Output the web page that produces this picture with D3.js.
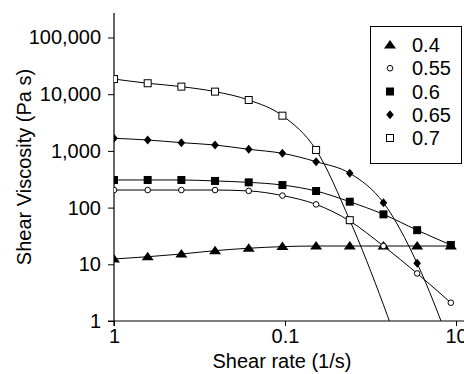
<!DOCTYPE html>
<html><head><meta charset="utf-8">
<script src="https://cdn.jsdelivr.net/npm/d3@7"></script>
<style>html,body{margin:0;padding:0;background:#fff;}svg{display:block;font-family:"Liberation Sans",Arial,sans-serif;}</style>
</head><body>
<svg id="c" width="464" height="374"></svg>
<script>
// shear rates (1/s)
const shearRate = [0.01, 0.01574, 0.02477, 0.03899, 0.06136, 0.09658, 0.152, 0.2392, 0.3765, 0.5926, 0.9327];
const seriesNames = ["0.4", "0.55", "0.6", "0.65", "0.7"];
const v04  = [12.4, 13.6, 15.2, 17.4, 19.2, 20.5, 21, 21, 21, 21, 21];
const v055 = [204, 204, 204, 204, 197, 163, 114, 58, 21, 6.9, 2.1];
const v06  = [307, 307, 307, 295, 279, 250, 196, 127, 76, 40, 21.9];
const v065 = [1668, 1557, 1396, 1271, 1067, 907, 645, 403, 122, 10.4, 0.35];
const v07  = [18500, 15600, 13600, 11100, 7900, 4180, 1040, 60, null, 0.042, null];
const seriesValues = [v04, v055, v06, v065, v07];
const xTickValues = [0.01, 0.1, 1];
const xTickLabels = ["1", "0.1", "10"];
const yTickValues = [1, 10, 100, 1000, 10000, 100000];
const yTickLabels = ["1", "10", "100", "1,000", "10,000", "100,000"];
const markerTypes = ["triangle", "circleOpen", "square", "diamond", "squareOpen"];

const svg = d3.select("#c");
const x = d3.scaleLog().domain([0.01, 1]).range([114, 456]);
const y = d3.scaleLog().domain([1, 100000]).range([321, 37.5]);
const font = 20;

svg.append("defs").append("clipPath").attr("id", "clip")
  .append("rect").attr("x", 114).attr("y", 0).attr("width", 350).attr("height", 321);

// axes
const ya = svg.append("g").attr("transform", "translate(114,0)")
  .call(d3.axisLeft(y).tickValues(yTickValues).tickSize(6).tickSizeOuter(0)
    .tickFormat((d, i) => yTickLabels[i]));
ya.select(".domain").remove();
ya.selectAll("line").attr("stroke", "#000");
ya.selectAll("text").attr("font-size", font).attr("font-family", "Liberation Sans, Arial, sans-serif")
  .attr("fill", "#000").attr("x", -13);

const xa = svg.append("g").attr("transform", "translate(0,321)")
  .call(d3.axisBottom(x).tickValues(xTickValues).tickSize(5).tickSizeOuter(0)
    .tickFormat((d, i) => xTickLabels[i]));
xa.select(".domain").remove();
xa.selectAll("line").attr("stroke", "#000");
xa.selectAll("text").attr("font-size", font).attr("font-family", "Liberation Sans, Arial, sans-serif")
  .attr("fill", "#000").attr("y", 8);

svg.append("line").attr("x1", 114).attr("x2", 114).attr("y1", 13).attr("y2", 326).attr("stroke", "#000").attr("stroke-width", 1.2);
svg.append("line").attr("x1", 108).attr("x2", 464).attr("y1", 321).attr("y2", 321).attr("stroke", "#000").attr("stroke-width", 1);

svg.append("text").attr("x", 282).attr("y", 368).attr("text-anchor", "middle")
  .attr("font-size", font).attr("fill", "#000").text("Shear rate (1/s)");
svg.append("text").attr("transform", "translate(31,167) rotate(-90)").attr("text-anchor", "middle")
  .attr("font-size", font).attr("fill", "#000").text("Shear Viscosity (Pa s)");

function drawMarker(g, type, cx, cy) {
  if (type === "triangle") {
    g.append("path").attr("d", `M${cx},${cy-5}L${cx+6},${cy+3.5}L${cx-6},${cy+3.5}Z`).attr("fill", "#000");
  } else if (type === "circleOpen") {
    g.append("circle").attr("cx", cx).attr("cy", cy).attr("r", 2.8).attr("fill", "#fff").attr("stroke", "#000").attr("stroke-width", 1);
  } else if (type === "square") {
    g.append("rect").attr("x", cx-4).attr("y", cy-4).attr("width", 8).attr("height", 8).attr("fill", "#000");
  } else if (type === "diamond") {
    g.append("path").attr("d", `M${cx},${cy-4.5}L${cx+3.8},${cy}L${cx},${cy+4.5}L${cx-3.8},${cy}Z`).attr("fill", "#000");
  } else if (type === "squareOpen") {
    g.append("rect").attr("x", cx-3.5).attr("y", cy-3.5).attr("width", 7).attr("height", 7).attr("fill", "#fff").attr("stroke", "#000").attr("stroke-width", 1);
  }
}

const plot = svg.append("g").attr("clip-path", "url(#clip)");
const line = d3.line().x(d => x(d[0])).y(d => y(d[1])).curve(d3.curveMonotoneX);

seriesValues.forEach((vals, si) => {
  const pts = shearRate.map((s, i) => [s, vals[i]]).filter(d => d[1] !== null);
  plot.append("path").attr("d", line(pts)).attr("fill", "none").attr("stroke", "#000").attr("stroke-width", 1);
});
seriesValues.forEach((vals, si) => {
  const g = plot.append("g");
  shearRate.forEach((s, i) => {
    if (vals[i] !== null) drawMarker(g, markerTypes[si], x(s), y(vals[i]));
  });
});

// legend
const lg = svg.append("g");
lg.append("rect").attr("x", 370.5).attr("y", 26.5).attr("width", 91).attr("height", 137)
  .attr("fill", "#fff").attr("stroke", "#000").attr("stroke-width", 1);
seriesNames.forEach((n, i) => {
  const cy = 45 + i * 23.25;
  drawMarker(lg, markerTypes[i], 390, cy);
  lg.append("text").attr("x", 412).attr("y", cy + 7).attr("font-size", font).attr("fill", "#000").text(n);
});
</script>
</body></html>
